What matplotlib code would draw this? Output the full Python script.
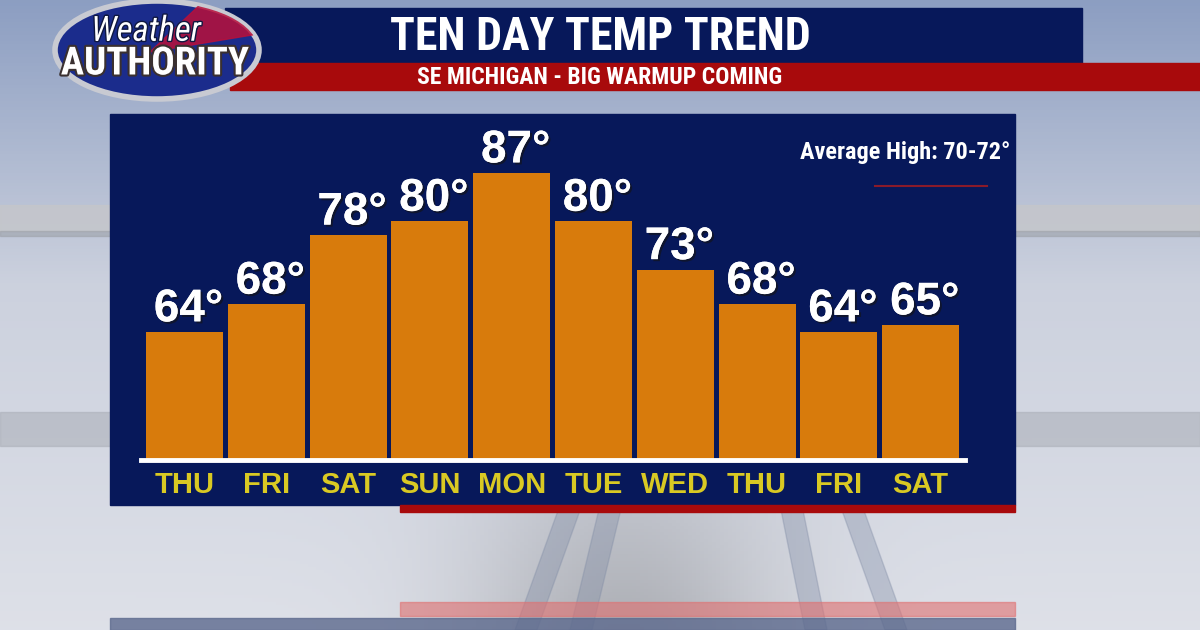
import numpy as np
import matplotlib
matplotlib.use('Agg')
import matplotlib.pyplot as plt
import matplotlib.font_manager as fm
from matplotlib.patches import Rectangle, Ellipse, Polygon
import matplotlib.patheffects as pe

# forecast highs
days = ['THU', 'FRI', 'SAT', 'SUN', 'MON', 'TUE', 'WED', 'THU', 'FRI', 'SAT']
highs = [64, 68, 78, 80, 87, 80, 73, 68, 64, 65]

title = 'TEN DAY TEMP TREND'
subtitle = 'SE MICHIGAN - BIG WARMUP COMING'
avg_note = 'Average High: 70-72\u00b0'

NAVY = '#07185a'
RED = '#a80a0c'
ORANGE = '#d87b0c'
YELLOW = '#d9c923'

W, H = 1200, 630

installed = {f.name for f in fm.fontManager.ttflist}
def pick(*names):
    for n in names:
        if n in installed:
            return n
    return 'DejaVu Sans'

COND = pick('Roboto Condensed', 'Archivo Narrow', 'PT Sans Narrow', 'Saira SemiCondensed', 'Liberation Sans Narrow')
BOLD = pick('Liberation Sans', 'Arimo', 'Roboto')

fig = plt.figure(figsize=(W / 100, H / 100), dpi=100)

# background in pixel coords (y down)
bg = fig.add_axes([0, 0, 1, 1])
bg.set_xlim(0, W)
bg.set_ylim(H, 0)
bg.axis('off')

# sky / studio gradient
yy = np.linspace(0, 1, 200)[:, None]
xx = np.linspace(0, 1, 300)[None, :]
top = np.array([0.55, 0.62, 0.76])
mid = np.array([0.80, 0.82, 0.87])
low = np.array([0.87, 0.88, 0.91])
t = np.clip(yy / 0.45, 0, 1)[..., None]
img = top * (1 - t) + mid * t
t2 = np.clip((yy - 0.45) / 0.55, 0, 1)[..., None]
img = img * (1 - t2) + low * t2
shade = 1 - 0.22 * np.exp(-((xx - 0.52) / 0.13) ** 2) * np.clip((yy - 0.6) / 0.4, 0, 1)
img = np.clip(img * shade[..., None], 0, 1)
bg.imshow(img, extent=[0, W, H, 0], aspect='auto', zorder=0)

# grey stage bars behind the panel
bg.add_patch(Rectangle((0, 205), W, 26, color='#c4c6cb', alpha=0.9, zorder=1))
bg.add_patch(Rectangle((0, 231), W, 5, color='#9ea2aa', alpha=0.6, zorder=1))
bg.add_patch(Rectangle((0, 412), W, 34, color='#a9adb6', alpha=0.55, zorder=1))
for x0, x1 in [(560, 515), (600, 570), (780, 805), (840, 885)]:
    bg.add_patch(Polygon([(x0, 505), (x0 + 22, 505), (x1 + 22, H), (x1, H)],
                         color='#7e8aa4', alpha=0.35, zorder=1))

# lower faint panel and red line
bg.add_patch(Rectangle((110, 618), 905, 12, color='#5d6a8e', alpha=0.8, zorder=2))
bg.add_patch(Rectangle((400, 602), 615, 14, color='#e07070', alpha=0.6, zorder=2))

# header banners
bg.add_patch(Rectangle((225, 8), 857, 55, color=NAVY, zorder=3))
bg.add_patch(Rectangle((230, 63), 970, 27, color=RED, zorder=3))
bg.text(600, 37, title, color='white', fontsize=33, fontweight='bold',
        family=COND, ha='center', va='center', zorder=5)
bg.text(600, 77, subtitle, color='white', fontsize=17, fontweight='bold',
        family=COND, ha='center', va='center', zorder=5)

# logo
bg.add_patch(Ellipse((157, 50), 204, 98, facecolor='#1b2c8c', edgecolor='#c8cad2',
                     lw=4, zorder=6))
wedge = Polygon([(150, 52), (205, 0), (270, 0), (270, 32)], color='#b8103a',
                alpha=0.85, zorder=6)
bg.add_patch(wedge)
wedge.set_clip_path(Ellipse((157, 50), 202, 96, transform=bg.transData))
bg.text(146, 31, 'Weather', color='white', fontsize=25, style='italic',
        family=COND, ha='center', va='center', zorder=7,
        path_effects=[pe.withStroke(linewidth=2, foreground='#101840')])
bg.text(155, 64, 'AUTHORITY', color='white', fontsize=28, fontweight='bold',
        family=COND, ha='center', va='center', zorder=7,
        path_effects=[pe.withStroke(linewidth=3, foreground='#3a3030')])

# chart panel
bg.add_patch(Rectangle((110, 114), 905, 391, color=NAVY, zorder=3))
bg.add_patch(Rectangle((400, 505), 615, 7, color=RED, zorder=3))
bg.text(1010, 153, avg_note, color='white', fontsize=17.5, fontweight='bold',
        family=COND, ha='right', va='center', zorder=5)
bg.plot([875, 987], [186, 186], color='#8a1a2a', lw=1.5, zorder=5)

# bar axes: baseline at y=460px, top at 140px
base_y, top_y = 460, 140
x_left, x_right = 141, 965
ax = fig.add_axes([x_left / W, (H - base_y) / H, (x_right - x_left) / W, (base_y - top_y) / H])
ax.patch.set_visible(False)
px_deg = 6.91
pitch = 81.8
c0 = 184.5
ymin = 64 - (base_y - 332) / px_deg
ax.set_ylim(ymin, ymin + (base_y - top_y) / px_deg)
ax.set_xlim((x_left - c0) / pitch, (x_right - c0) / pitch)
for s in ax.spines.values():
    s.set_visible(False)
ax.set_yticks([])

xs = np.arange(len(days))
ax.bar(xs, np.array(highs) - ymin, bottom=ymin, width=77 / pitch, color=ORANGE, zorder=2)
ax.axhline(ymin, color='white', lw=3.5, zorder=3, clip_on=False)

for x, v in zip(xs, highs):
    ax.text(x + 0.05, v + 0.1, f'{v}\u00b0', color='white', fontsize=33, fontweight='bold',
            family=BOLD, ha='center', va='bottom', zorder=4,
            path_effects=[pe.withSimplePatchShadow(offset=(1.5, -1.5), shadow_rgbFace='#10152a', alpha=0.9),
                          pe.Normal()])

ax.set_xticks(xs)
ax.set_xticklabels(days, color=YELLOW, fontsize=21, fontweight='bold', family=BOLD)
ax.tick_params(axis='x', length=0, pad=8)

fig.savefig('out.png', dpi=100)
